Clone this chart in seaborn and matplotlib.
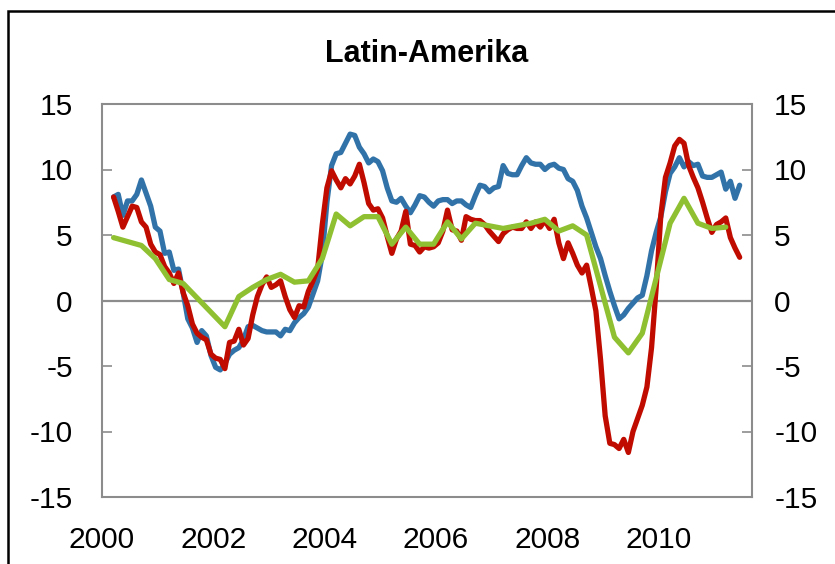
import numpy as np
import pandas as pd
import matplotlib
matplotlib.use("Agg")
import matplotlib.pyplot as plt
import seaborn as sns
from matplotlib.patches import Rectangle

# ─────────────────────────────────────────────
# data, monthly from Mar 2000, quarterly for green
# ─────────────────────────────────────────────
START_MONTH = "2000-03"

blue = [7.9, 8.1, 6.5, 7.6, 7.6, 8.1, 9.2, 8.2, 7.2, 5.6,
        5.3, 3.6, 3.7, 2.3, 2.4, 0.6, -1.4, -2.1, -3.2, -2.3,
        -2.7, -4.2, -5.1, -5.3, -4.8, -4.1, -3.8, -3.6, -3.0, -2.0,
        -1.9, -2.1, -2.3, -2.4, -2.4, -2.4, -2.7, -2.2, -2.3, -1.7,
        -1.3, -1.0, -0.5, 0.5, 1.5, 3.5, 7.5, 10.3, 11.2, 11.3,
        12.0, 12.7, 12.6, 11.7, 11.2, 10.5, 10.8, 10.6, 9.9, 8.6,
        7.6, 7.5, 7.8, 7.2, 6.7, 7.3, 8.0, 7.9, 7.5, 7.2,
        7.6, 7.7, 7.7, 7.4, 7.6, 7.6, 7.3, 7.1, 8.0, 8.8,
        8.7, 8.3, 8.6, 8.7, 10.3, 9.7, 9.6, 9.6, 10.3, 10.9,
        10.5, 10.4, 10.4, 10.0, 10.3, 10.4, 10.1, 10.0, 9.3, 9.1,
        8.4, 7.2, 6.3, 5.2, 4.1, 3.2, 1.9, 0.7, -0.4, -1.4,
        -1.1, -0.6, -0.2, 0.2, 0.4, 1.9, 3.8, 5.2, 6.4, 8.3,
        9.7, 10.2, 10.9, 10.2, 10.6, 10.3, 10.4, 9.5, 9.4, 9.4,
        9.6, 9.8, 8.5, 9.1, 7.8, 8.8]

red = [7.9, 6.8, 5.6, 6.4, 7.2, 7.1, 6.0, 5.6, 4.3, 3.7,
       3.5, 2.6, 2.1, 1.3, 2.1, 0.6, -0.4, -1.8, -2.5, -2.8,
       -3.0, -4.1, -4.4, -4.5, -5.2, -3.2, -3.1, -2.2, -3.4, -2.9,
       -1.1, 0.3, 1.2, 1.8, 1.0, 1.2, 1.5, 0.3, -0.7, -1.3,
       -0.4, -0.5, 0.7, 1.5, 2.4, 5.8, 8.6, 9.9, 9.2, 8.6,
       9.3, 8.9, 9.5, 10.4, 9.0, 7.4, 6.9, 7.0, 6.3, 4.9,
       3.6, 4.7, 5.3, 6.8, 4.3, 4.2, 3.7, 4.1, 4.0, 4.1,
       4.4, 5.3, 6.9, 5.4, 5.3, 4.6, 6.4, 6.2, 6.1, 6.1,
       5.8, 5.3, 4.9, 4.5, 5.1, 5.4, 5.6, 5.5, 5.5, 6.0,
       5.5, 6.0, 5.6, 6.1, 5.5, 6.2, 4.4, 3.2, 4.4, 3.6,
       2.7, 2.1, 2.7, 1.0, -0.8, -4.5, -8.8, -10.9, -11.0, -11.3,
       -10.6, -11.6, -10.0, -9.0, -8.0, -6.6, -3.6, 1.0, 6.5, 9.4,
       10.5, 11.8, 12.3, 12.0, 10.3, 9.4, 8.6, 7.5, 6.3, 5.2,
       5.8, 6.0, 6.3, 4.8, 4.0, 3.3]

green = [4.8, 4.5, 4.2, 3.2, 1.6, 1.3, 0.2, -0.9, -2.0, 0.3,
         1.0, 1.6, 2.0, 1.4, 1.5, 3.2, 6.6, 5.7, 6.4, 6.4,
         4.3, 5.6, 4.3, 4.3, 6.0, 4.7, 5.9, 5.7, 5.5, 5.7,
         5.9, 6.2, 5.3, 5.7, 5.0, 1.1, -2.8, -4.0, -2.5, 1.7,
         5.9, 7.8, 5.9, 5.5, 5.6]

y_ticks = [-15, -10, -5, 0, 5, 10, 15]
x_ticks = [2000, 2002, 2004, 2006, 2008, 2010]
title = "Latin-Amerika"

BLUE = "#3173A9"
RED = "#C00C00"
GREEN = "#8FC031"
GREY = "#8C8C8C"
LW = 3.8


def decimal_year(dates):
    # point sits in the middle of its month
    return dates.year + (dates.month - 1 + 0.5) / 12


monthly = pd.date_range(START_MONTH, periods=len(blue), freq="MS")
quarterly = pd.date_range(START_MONTH, periods=len(green), freq="3MS")

df_m = pd.DataFrame({"x": decimal_year(monthly), "blue": blue, "red": red})
df_q = pd.DataFrame({"x": decimal_year(quarterly), "green": green})

# ─────────────────────────────────────────────
# plot
# ─────────────────────────────────────────────
sns.set_style("white")
plt.rcParams["font.family"] = ["Liberation Sans", "DejaVu Sans"]
plt.rcParams["axes.unicode_minus"] = False
plt.rcParams["text.color"] = "black"

fig = plt.figure(figsize=(8.35, 5.64), dpi=100)
ax = fig.add_axes([102 / 835, 1 - 497 / 564, 650 / 835, 393 / 564])

ax.axhline(0, color=GREY, lw=1.6, zorder=1)
sns.lineplot(data=df_m, x="x", y="blue", ax=ax, color=BLUE, lw=LW, zorder=2)
sns.lineplot(data=df_m, x="x", y="red", ax=ax, color=RED, lw=LW, zorder=3)
sns.lineplot(data=df_q, x="x", y="green", ax=ax, color=GREEN, lw=LW, zorder=4)

ax.set_xlim(2000, 2011.68)
ax.set_ylim(-15, 15)
ax.set_xticks(x_ticks)
ax.set_xticklabels([str(t) for t in x_ticks])
ax.set_yticks(y_ticks)
ax.set_xlabel("")
ax.set_ylabel("")

for sp in ax.spines.values():
    sp.set_color(GREY)
    sp.set_linewidth(1.5)

ax.tick_params(axis="both", direction="in", length=7, width=1.2, color=GREY,
               labelsize=21.5, labelcolor="black")
ax.tick_params(axis="y", pad=21)
ax.tick_params(axis="x", pad=21)
# no tick mark at the left edge for 2000
ax.xaxis.get_major_ticks()[0].tick1line.set_visible(False)

ax2 = ax.twinx()
ax2.set_ylim(-15, 15)
ax2.set_yticks(y_ticks)
ax2.tick_params(axis="y", direction="in", length=7, width=1.2, color=GREY,
                labelsize=21.5, labelcolor="black", pad=16)
for sp in ax2.spines.values():
    sp.set_visible(False)

ax.set_title(title, fontsize=22, fontweight="bold", color="black", pad=30)

# black frame round the chart (runs past the right and bottom edges)
fig.patches.append(Rectangle((8 / 835, -0.1), 1.2, 1.1 - 11 / 564,
                             transform=fig.transFigure, fill=False,
                             edgecolor="black", linewidth=1.8))

plt.savefig("out.png", dpi=100)
plt.close()
